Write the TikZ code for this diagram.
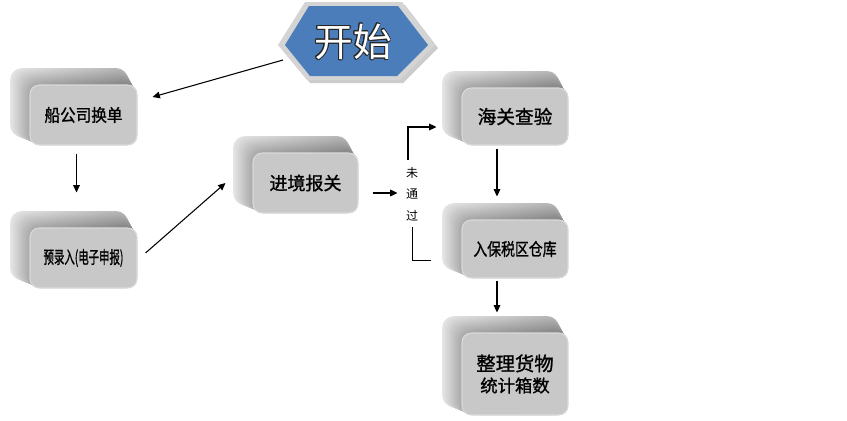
\documentclass[tikz,border=0pt]{standalone}
\usepackage{fontspec}
\usepackage{graphicx}
\usepackage[copies]{contour}
\newfontfamily\cjk[FakeBold=1.2]{Noto Sans CJK SC}
\newfontfamily\cjkl{Noto Sans CJK SC}
\usetikzlibrary{calc,arrows.meta}
\definecolor{topl}{HTML}{E6E6E6}
\definecolor{topd}{HTML}{A6A6A6}
\definecolor{topr}{HTML}{B4B4B4}
\definecolor{toprd}{HTML}{7E7E7E}
\definecolor{frontc}{HTML}{C8C8C8}
\definecolor{frontedge}{HTML}{DADADA}
\definecolor{hexblue}{HTML}{4A7DBA}
\definecolor{hexedge}{HTML}{D4D4D4}
\contourlength{0.7pt}
\tikzset{
  arr/.style={line width=0.8pt,-{Triangle[length=5.5pt,width=5pt]}},
  plain/.style={line width=0.7pt},
  frontface/.style={fill=frontc,draw=frontedge,line width=0.8pt,rounded corners=7pt,inner sep=0pt,font=\cjk\fontsize{13pt}{16pt}\selectfont,align=center},
}
\newcommand\cubebox[6]{%
  \foreach \ii in {0,1,...,20}{%
    \pgfmathsetmacro\kk{\ii/20}%
    \pgfmathsetmacro\pp{100-100*\kk}%
    \shade[left color=topl!\pp!topd,right color=topr!\pp!toprd,rounded corners=9pt]
      ({#2-20+20*\kk},{#3-17+17*\kk}) rectangle ({#4-9+9*\kk},{#5-8+8*\kk});
  }%
  \node[frontface,minimum width={(#4-#2)*0.75pt},minimum height={(#5-#3)*0.75pt}]
    (#1) at ({(#2+#4)/2},{(#3+#5)/2}) {#6};
}
\begin{document}
\begin{tikzpicture}[x=0.75pt,y=-0.75pt]
\useasboundingbox (0,0) rectangle (847,421);
% start hexagon
\fill[gray!40] (281,48) -- (308,5) -- (405,5) -- (438,48) -- (403,83) -- (310,83) -- cycle;
\fill[hexedge] (278,45) -- (305,2) -- (402,2) -- (435,45) -- (400,80) -- (307,80) -- cycle;
\fill[hexblue] (285,45) -- (309,6) -- (398,6) -- (428,45) -- (397,76) -- (310,76) -- cycle;
\node[inner sep=0pt,font=\cjkl\fontsize{29pt}{30pt}\selectfont] (start) at (353,42) {\contour{black!85}{\textcolor{white}{开始}}};
% boxes
\cubebox{b1}{30}{85}{137}{145}{\scalebox{0.9}[1]{船公司换单}}
\cubebox{b2}{30}{228}{137}{288}{\scalebox{0.6}[1]{预录入(电子申报)}}
\cubebox{b3}{253}{153}{358}{213}{\fontsize{13.5pt}{16pt}\selectfont 进境报关}
\cubebox{b4}{462}{88}{568}{145}{\fontsize{14pt}{16pt}\selectfont 海关查验}
\cubebox{b5}{462}{220}{568}{278}{\scalebox{0.8}[1]{入保税区仓库}}
\cubebox{b6}{462}{333}{568}{415}{\fontsize{14.5pt}{21pt}\selectfont 整理货物\\统计箱数}
% label
\node[inner sep=0pt,font=\cjkl\fontsize{9pt}{16pt}\selectfont,align=center] (lbl) at (412,194) {未\\通\\过};
\coordinate (nt) at (408,160);
\coordinate (nb) at (412,227);
% connectors
\draw[arr] ($(start)+(-70,18)$) -- ($(b1.east)+(15,-18)$);
\draw[arr] ($(b1.south)+(-7,8)$) -- ($(b2.north)+(-7,-35)$);
\draw[arr] ($(b2.east)+(8,-5)$) -- ($(b3.west)+(-27,0)$);
\draw[arr] ($(b3.east)+(14,10)$) -- ($(b3.east)+(39,10)$);
\draw[arr] (nt) |- ($(b4.west)+(-25,10.5)$);
\draw[plain] (nb) |- ($(b5.west)+(-30,11)$);
\draw[arr] ($(b4.south)+(-18,3)$) -- ($(b5.north)+(-18,-23)$);
\draw[arr] ($(b5.south)+(-18,2)$) -- ($(b6.north)+(-18,-20)$);
\end{tikzpicture}
\end{document}
